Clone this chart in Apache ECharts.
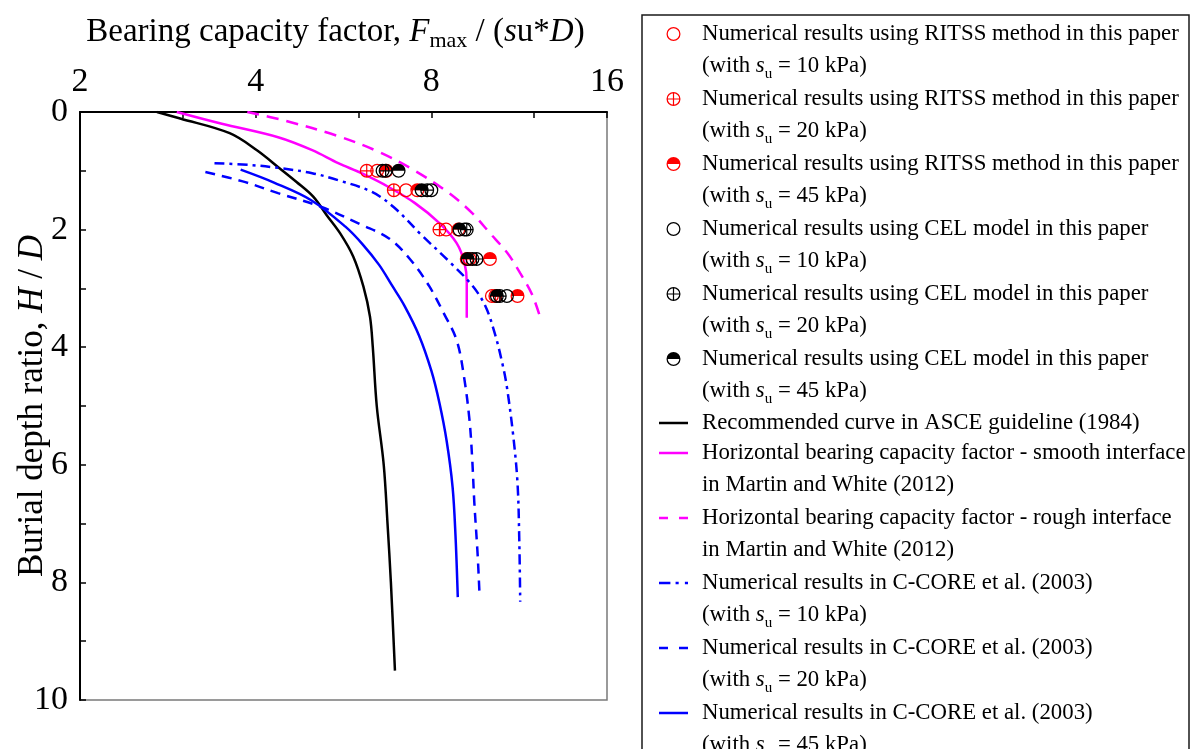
<!DOCTYPE html>
<html>
<head>
<meta charset="utf-8">
<script src="https://cdn.jsdelivr.net/npm/echarts@6/dist/echarts.min.js"></script>
<style>
  html, body { margin: 0; padding: 0; background: #fff; }
  #chart { width: 1195px; height: 749px; }
</style>
</head>
<body>
<div id="chart"></div>
<script>
// ---- Data: bearing capacity factor (x) against burial depth ratio H/D (y) ----
const xTicks = [2, 4, 8, 16];
const xMinorTicks = [2, 3, 4, 6, 8, 12, 16];

// Curves: [factor, depth]
const asceCurve = [[2.71, 0], [2.97, 0.11], [3.61, 0.36], [4.02, 0.65], [4.4, 0.96], [4.7, 1.19],
  [5.02, 1.44], [5.29, 1.75], [5.58, 2.06], [5.88, 2.46], [6.12, 2.97], [6.28, 3.48],
  [6.35, 4.0], [6.45, 5.0], [6.63, 6.0], [6.73, 7.0], [6.82, 8.0], [6.93, 9.5]];
const smoothInterface = [[2.93, 0], [3.5, 0.2], [4.37, 0.43], [5.0, 0.65], [5.54, 0.87], [6.1, 1.05],
  [6.77, 1.28], [7.5, 1.55], [8.26, 1.89], [8.84, 2.23], [9.12, 2.57], [9.2, 2.9], [9.2, 3.5]];
const roughInterface = [[3.87, 0], [4.5, 0.15], [5.5, 0.4], [6.51, 0.68], [7.5, 1.0], [8.58, 1.38],
  [9.4, 1.72], [10.08, 2.06], [10.8, 2.4], [11.36, 2.74], [11.9, 3.1], [12.3, 3.5]];
const ccore10 = [[3.4, 0.87], [3.9, 0.9], [4.37, 0.95], [5.0, 1.04], [5.54, 1.16], [6.33, 1.36],
  [6.9, 1.62], [7.71, 2.1], [8.6, 2.55], [9.4, 2.95], [9.9, 3.3], [10.3, 3.8], [10.6, 4.3],
  [10.78, 4.68], [11.05, 5.5], [11.24, 6.31], [11.32, 7.3], [11.36, 8.33]];
const ccore20 = [[3.28, 1.02], [3.8, 1.18], [4.37, 1.38], [5.2, 1.62], [6.08, 1.92], [6.77, 2.15],
  [7.35, 2.5], [7.92, 2.95], [8.4, 3.42], [8.84, 3.88], [9.1, 4.5], [9.3, 5.24], [9.4, 5.9],
  [9.48, 6.65], [9.6, 7.5], [9.68, 8.25]];
const ccore45 = [[3.77, 0.98], [4.3, 1.2], [4.98, 1.5], [5.7, 1.95], [6.1, 2.25], [6.51, 2.6],
  [6.85, 2.95], [7.2, 3.3], [7.62, 3.8], [8.0, 4.4], [8.26, 4.95], [8.5, 5.6], [8.7, 6.38],
  [8.8, 7.2], [8.88, 8.25]];

// Point results at the tested burial depths
const testDepths = [1.0, 1.33, 2.0, 2.5, 3.13];
const ritss10 = [6.46, 7.24, 8.48, 9.3, 10.16];
const ritss20 = [6.2, 6.9, 8.26, 9.2, 10.3];
const ritss45 = [6.7, 7.57, 8.9, 10.08, 11.24];
const cel10 = [6.6, 8.0, 9.12, 9.41, 10.78];
const cel20 = [6.68, 7.87, 9.2, 9.56, 10.48];
const cel45 = [7.03, 7.7, 8.94, 9.23, 10.36];

// ---- Marker shapes (filled paths, non-zero winding leaves the holes open) ----
const OUTER = 'M-10 0A10 10 0 0 1 10 0A10 10 0 0 1 -10 0Z';
const RING = 'path://' + OUTER + 'M-8.2 0A8.2 8.2 0 0 0 8.2 0A8.2 8.2 0 0 0 -8.2 0Z';
const CROSS_RING = RING + 'M-8.4 -0.85H8.4V0.85H-8.4ZM-0.85 -8.4H0.85V8.4H-0.85Z';
const HALF = 'path://' + OUTER + 'M-8.2 0A8.2 8.2 0 0 0 8.2 0Z';

const FONT = 'Liberation Serif';
const RED = '#ff0000', BLACK = '#000000', MAGENTA = '#ff00ff', BLUE = '#0000ff';
const MARK = 14;

const pairs = (xs) => xs.map((v, i) => [v, testDepths[i]]);

function lineSeries(name, data, color, type) {
  return {
    name, type: 'line', data, symbol: 'none', smooth: 0.35, z: 2,
    lineStyle: { color, width: 2.5, type: type || 'solid', cap: 'butt' }
  };
}
function pointSeries(name, data, color, symbol, z) {
  return {
    name, type: 'scatter', data: pairs(data), symbol, symbolSize: MARK, z,
    itemStyle: { color, opacity: 1 }
  };
}

// ---- Legend texts ----
const legendLines = {
  ritss10: ['Numerical results using RITSS method in this paper', '10'],
  ritss20: ['Numerical results using RITSS method in this paper', '20'],
  ritss45: ['Numerical results using RITSS method in this paper', '45'],
  cel10: ['Numerical results using CEL model in this paper', '10'],
  cel20: ['Numerical results using CEL model in this paper', '20'],
  cel45: ['Numerical results using CEL model in this paper', '45'],
  asce: ['Recommended curve in ASCE guideline (1984)'],
  smooth: ['Horizontal bearing capacity factor - smooth interface', 'in Martin and White (2012)'],
  rough: ['Horizontal bearing capacity factor - rough interface', 'in Martin and White (2012)'],
  cc10: ['Numerical results in C-CORE et al. (2003)', '10'],
  cc20: ['Numerical results in C-CORE et al. (2003)', '20'],
  cc45: ['Numerical results in C-CORE et al. (2003)', '45']
};
function legendLabel(name) {
  const l = legendLines[name];
  let s = '{n|' + l[0] + '}';
  if (l.length > 1) {
    if (/^\d+$/.test(l[1])) {
      s += '\n{n|(with }{i|s}{sub|u}{n| = ' + l[1] + ' kPa)}';
    } else {
      s += '\n{n|' + l[1] + '}';
    }
  }
  return s;
}

const LEG_FS = 22.8, LEG_LH = 32;
const legendRich = {
  n: { fontFamily: FONT, fontSize: LEG_FS, lineHeight: LEG_LH, color: '#000' },
  i: { fontFamily: FONT, fontSize: LEG_FS, lineHeight: LEG_LH, fontStyle: 'italic', color: '#000' },
  sub: { fontFamily: FONT, fontSize: 15, lineHeight: 13, verticalAlign: 'bottom', color: '#000' }
};

// legend icon for line entries, drawn as filled dash segments
const LINE_ICONS = {
  solid: 'path://M0 0H29V1H0Z',
  dashed: 'path://M0 0H9V1H0ZM20 0H29V1H20Z',
  dashdot: 'path://M0 0H11V1H0ZM16 0H19V1H16ZM25 0H28V1H25Z'
};

const legendEntries = [
  { name: 'ritss10', y: 34 }, { name: 'ritss20', y: 99 }, { name: 'ritss45', y: 164 },
  { name: 'cel10', y: 229 }, { name: 'cel20', y: 294 }, { name: 'cel45', y: 359 },
  { name: 'asce', y: 423, icon: 'solid', color: BLACK },
  { name: 'smooth', y: 453, icon: 'solid', color: MAGENTA },
  { name: 'rough', y: 518, icon: 'dashed', color: MAGENTA },
  { name: 'cc10', y: 583, icon: 'dashdot', color: BLUE },
  { name: 'cc20', y: 648, icon: 'dashed', color: BLUE },
  { name: 'cc45', y: 713, icon: 'solid', color: BLUE }
];

const ICON_W = 29, LEG_LEFT = 659;
const legends = legendEntries.map((e) => {
  const twoLines = legendLines[e.name].length > 1;
  const isLine = !!e.icon;
  const item = { name: e.name };
  if (isLine) {
    item.icon = LINE_ICONS[e.icon];
    item.itemStyle = { color: e.color, borderWidth: 0 };
  }
  return {
    show: true,
    data: [item],
    orient: 'vertical',
    // symbol icons are narrower than the icon box, so the box edge sits left of them
    left: isLine ? LEG_LEFT : LEG_LEFT + (ICON_W - MARK) / 2,
    top: e.y - (twoLines ? 1.5 * LEG_LH : 0.5 * LEG_LH),
    padding: 0,
    itemWidth: ICON_W,
    itemHeight: isLine ? 2.5 : MARK,
    symbolKeepAspect: !isLine,
    selectedMode: false,
    formatter: legendLabel,
    textStyle: {
      fontFamily: FONT, fontSize: LEG_FS, lineHeight: LEG_LH, color: '#000',
      padding: [twoLines ? LEG_LH : 0, 0, 0, 9],
      rich: legendRich
    }
  };
});

const TICK_FS = 34;
const axisFont = { fontFamily: FONT, fontSize: TICK_FS, color: '#000' };

const option = {
  animation: false,
  backgroundColor: '#fff',
  grid: {
    left: 80, right: 588, top: 112, bottom: 49,
    outerBoundsMode: 'none', containLabel: false,
    show: true, borderColor: '#7a7a7a', borderWidth: 1.5, backgroundColor: 'transparent'
  },
  legend: legends,
  graphic: [{
    type: 'rect', silent: true, z: 0,
    shape: { x: 642, y: 15, width: 547, height: 800 },
    style: { fill: 'none', stroke: '#1a1a1a', lineWidth: 1.5 }
  }],
  xAxis: {
    type: 'log', logBase: 2, min: 2, max: 16, position: 'top',
    name: '{t|Bearing capacity factor, }{i|F}{sub|max}{t| / (}{i|s}{t|u*}{i|D}{t|)}',
    nameLocation: 'middle', nameGap: 60,
    nameTextStyle: {
      fontFamily: FONT, fontSize: 33, color: '#000',
      padding: [0, 16, 0, 0],
      rich: {
        t: { fontFamily: FONT, fontSize: 33, lineHeight: 40, color: '#000' },
        i: { fontFamily: FONT, fontSize: 33, lineHeight: 40, fontStyle: 'italic', color: '#000' },
        sub: { fontFamily: FONT, fontSize: 22, lineHeight: 16, verticalAlign: 'bottom', color: '#000' }
      }
    },
    axisLine: { show: true, lineStyle: { color: '#000', width: 2 } },
    axisTick: { show: true, inside: true, length: 6, lineStyle: { color: '#000', width: 1.5 }, customValues: xMinorTicks },
    axisLabel: { show: true, margin: 13, customValues: xTicks, ...axisFont },
    splitLine: { show: false }
  },
  yAxis: {
    type: 'value', inverse: true, min: 0, max: 10, interval: 2,
    name: '{t|Burial depth ratio, }{i|H}{t| / }{i|D}',
    nameLocation: 'middle', nameGap: 30, nameRotate: 90, nameMoveOverlap: false,
    nameTextStyle: {
      fontFamily: FONT, fontSize: 35, color: '#000',
      rich: {
        t: { fontFamily: FONT, fontSize: 35, color: '#000' },
        i: { fontFamily: FONT, fontSize: 35, fontStyle: 'italic', color: '#000' }
      }
    },
    axisLine: { show: true, lineStyle: { color: '#000', width: 2 } },
    axisTick: { show: true, inside: true, length: 6, lineStyle: { color: '#000', width: 1.5 } },
    minorTick: { show: true, splitNumber: 2, length: 6, lineStyle: { color: '#000', width: 1.5 } },
    axisLabel: { show: true, margin: 12, ...axisFont },
    splitLine: { show: false }
  },
  series: [
    lineSeries('asce', asceCurve, BLACK),
    lineSeries('smooth', smoothInterface, MAGENTA),
    lineSeries('rough', roughInterface, MAGENTA, [12, 8]),
    lineSeries('cc10', ccore10, BLUE, [10, 5, 3, 5]),
    lineSeries('cc20', ccore20, BLUE, [10, 7]),
    lineSeries('cc45', ccore45, BLUE),
    pointSeries('ritss10', ritss10, RED, RING, 5),
    pointSeries('ritss20', ritss20, RED, CROSS_RING, 5),
    pointSeries('ritss45', ritss45, RED, HALF, 5),
    pointSeries('cel10', cel10, BLACK, RING, 6),
    pointSeries('cel20', cel20, BLACK, CROSS_RING, 6),
    pointSeries('cel45', cel45, BLACK, HALF, 6)
  ]
};

const chart = echarts.init(document.getElementById('chart'), null, { renderer: 'canvas' });
chart.setOption(option);
</script>
</body>
</html>
